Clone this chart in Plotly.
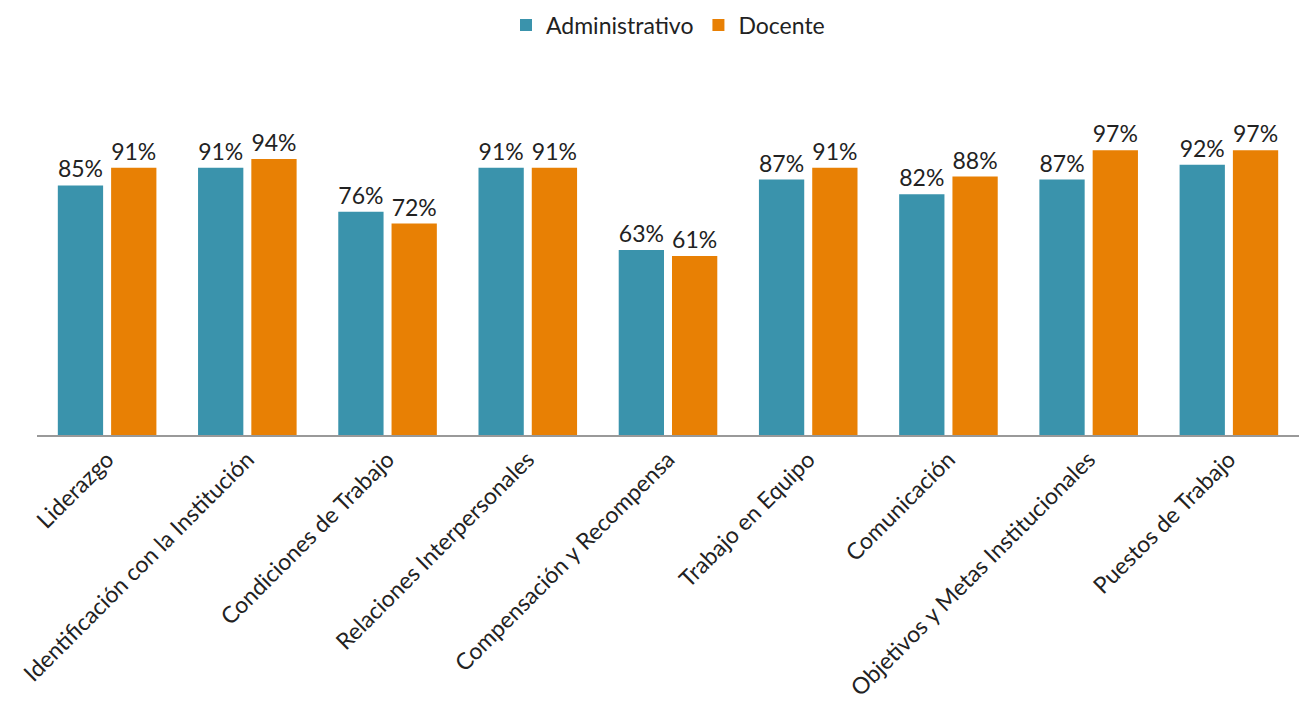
import plotly.graph_objects as go

categorias = [
    "Liderazgo",
    "Identificación con la Institución",
    "Condiciones de Trabajo",
    "Relaciones Interpersonales",
    "Compensación y Recompensa",
    "Trabajo en Equipo",
    "Comunicación",
    "Objetivos y Metas Institucionales",
    "Puestos de Trabajo",
]
administrativo = [85, 91, 76, 91, 63, 87, 82, 87, 92]
docente = [91, 94, 72, 91, 61, 91, 88, 97, 97]

FONT = "Lato, 'Open Sans', sans-serif"
TEAL = "#3A93AC"
ORANGE = "#E88004"
TEXT = "#222"

fig = go.Figure()
for nombre, valores, color in [
    ("Administrativo", administrativo, TEAL),
    ("Docente", docente, ORANGE),
]:
    fig.add_trace(go.Bar(
        name=nombre,
        x=categorias,
        y=valores,
        marker=dict(color=color, line=dict(width=0)),
        text=[f"{v}%" for v in valores],
        textposition="outside",
        textfont=dict(family=FONT, size=23, color=TEXT),
        cliponaxis=False,
    ))

fig.update_layout(
    width=1299,
    height=712,
    margin=dict(l=37, r=0, t=112, b=277),
    paper_bgcolor="white",
    plot_bgcolor="white",
    barmode="group",
    bargap=0.24,
    bargroupgap=0.15,
    font=dict(family=FONT, size=23, color=TEXT),
    legend=dict(
        orientation="h",
        x=0.5, xanchor="center",
        y=0.995, yanchor="top",
        yref="container",
        font=dict(family=FONT, size=23, color=TEXT),
        itemwidth=30,
        traceorder="normal",
    ),
    showlegend=True,
)
fig.update_xaxes(
    tickangle=-45,
    showline=True,
    linecolor="#999",
    linewidth=2,
    ticks="",
    tickfont=dict(family=FONT, size=23, color=TEXT),
)
fig.update_yaxes(
    range=[0, 110],
    visible=False,
    showgrid=False,
)

fig.write_html("out.html")
